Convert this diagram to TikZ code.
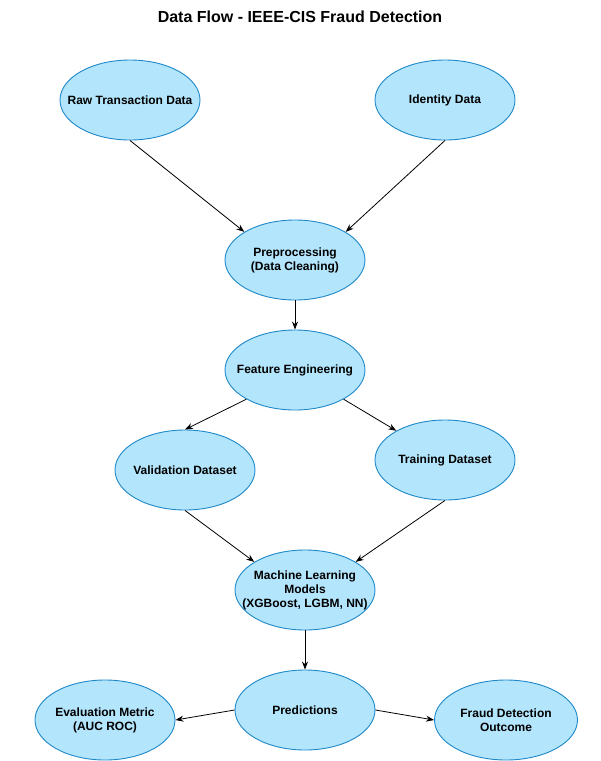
\documentclass[tikz,border=0pt]{standalone}
\usepackage{fontspec}
\setmainfont{Liberation Sans}
\usetikzlibrary{arrows.meta,shapes.geometric}
\definecolor{blobfill}{HTML}{B3E5FC}
\definecolor{blobline}{HTML}{1E88C8}
\begin{document}
\begin{tikzpicture}[x=1pt,y=-1pt,
  blob/.style={ellipse, fill=blobfill, draw=blobline, line width=0.9pt, minimum width=140pt, minimum height=80pt, inner xsep=-25pt, inner ysep=0pt, align=center, font=\fontsize{12}{14}\selectfont\bfseries},
  flow/.style={-{Stealth[length=8pt,width=6pt]}, line width=0.8pt}]
\useasboundingbox (0,0) rectangle (601,761);
\node (title) [font=\fontsize{16}{19}\selectfont\bfseries] at (300,17) {Data Flow - IEEE-CIS Fraud Detection};
\node (raw) [blob] at (130,100) {Raw Transaction Data};
\node (ident) [blob] at (445,100) {Identity Data};
\node (prep) [blob] at (295,260) {Preprocessing\\(Data Cleaning)};
\node (feat) [blob] at (295,370) {Feature Engineering};
\node (valid) [blob] at (185,470) {Validation Dataset};
\node (train) [blob] at (445,460) {Training Dataset};
\node (models) [blob] at (305,590) {Machine Learning\\Models\\(XGBoost, LGBM, NN)};
\node (pred) [blob] at (305,710) {Predictions};
\node (evalm) [blob] at (105,720) {Evaluation Metric\\(AUC ROC)};
\node (fraud) [blob, minimum width=143pt] at (506,720) {Fraud Detection\\Outcome};
\draw [flow] (raw.south) -- (prep.151);
\draw [flow] (ident.south) -- (prep.29);
\draw [flow] (prep.south) -- (feat.north);
\draw [flow] (feat.211) -- (valid.north);
\draw [flow] (feat.329) -- (train.149);
\draw [flow] (valid.south) -- (models.151);
\draw [flow] (train.south) -- (models.29);
\draw [flow] (models.south) -- (pred.north);
\draw [flow] (pred.west) -- (evalm.east);
\draw [flow] (pred.east) -- (fraud.west);
\end{tikzpicture}
\end{document}
